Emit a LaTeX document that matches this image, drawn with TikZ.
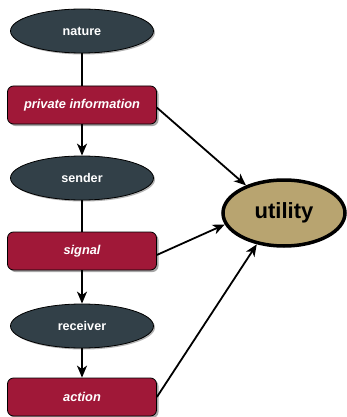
\documentclass[tikz,border=0pt]{standalone}
\usepackage{fontspec}
\setmainfont{Liberation Sans}
\usetikzlibrary{shapes.geometric,arrows.meta,shadows}
\definecolor{chance}{RGB}{50,64,72}
\definecolor{decision}{RGB}{160,24,56}
\definecolor{payoff}{RGB}{184,164,112}

\begin{document}
\begin{tikzpicture}[x=1pt,y=-1pt,
    chancenode/.style={ellipse, draw=black, line width=0.8pt, fill=chance,
      minimum width=143pt, minimum height=44pt, inner sep=0pt,
      drop shadow={shadow xshift=1.5pt, shadow yshift=-1.5pt, opacity=0.6},
      font=\bfseries\fontsize{12.6}{15}\selectfont\color{white}},
    infonode/.style={rectangle, rounded corners=6pt, draw=black, line width=0.8pt,
      fill=decision, minimum width=149pt, minimum height=38pt, inner sep=0pt,
      drop shadow={shadow xshift=2pt, shadow yshift=-2pt, opacity=0.7},
      font=\bfseries\itshape\fontsize{12.8}{15}\selectfont\color{white}},
    link/.style={line width=1.8pt},
    flow/.style={line width=1.8pt, -{Stealth[length=12pt,width=10pt,inset=3.5pt]}}]
  \useasboundingbox (0,0) rectangle (346,417);
  % left column
  \node[chancenode] (nature)   at (82,31)  {nature};
  \node[infonode]   (privinfo) at (82,105) {private information};
  \node[chancenode] (sender)   at (82,178) {sender};
  \node[infonode]   (signal)   at (82,251) {signal};
  \node[chancenode] (receiver) at (82,326) {receiver};
  \node[infonode]   (action)   at (82,397) {action};
  % payoff
  \node[ellipse, draw=black, line width=3.5pt, fill=payoff,
        minimum width=122pt, minimum height=66pt, inner sep=0pt,
        font=\bfseries\fontsize{22}{26}\selectfont] (utility) at (284,213) {utility};
  % edges
  \draw[link] (nature) -- (privinfo);
  \draw[flow] (privinfo) -- (sender);
  \draw[link] (sender) -- (signal);
  \draw[flow] (signal) -- (receiver);
  \draw[flow] (receiver) -- (action);
  \draw[flow] (privinfo.-2) -- (utility.144);
  \draw[flow] (signal.-3) -- (utility.191);
  \draw[flow] (action.east) -- (utility.229);
\end{tikzpicture}
\end{document}
